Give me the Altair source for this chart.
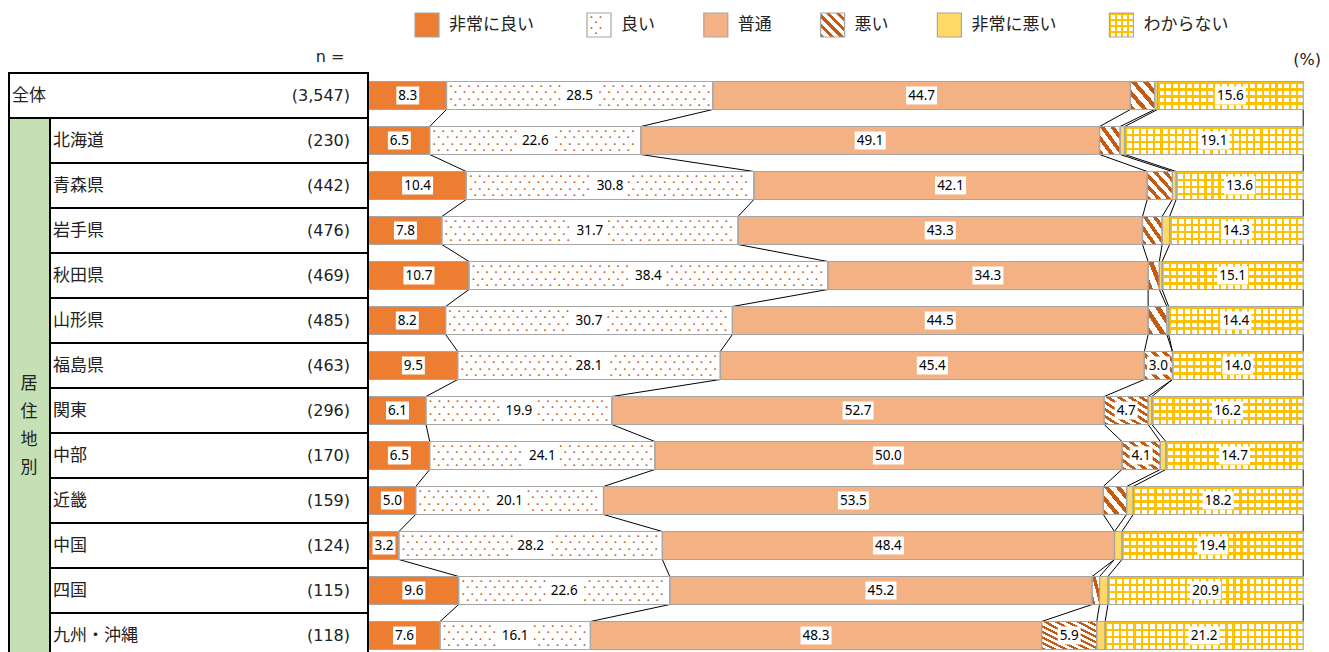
import altair as alt
import pandas as pd

# ---------------- data ----------------
rows = ["全体", "北海道", "青森県", "岩手県", "秋田県", "山形県", "福島県",
        "関東", "中部", "近畿", "中国", "四国", "九州・沖縄"]
n_values = ["(3,547)", "(230)", "(442)", "(476)", "(469)", "(485)", "(463)",
            "(296)", "(170)", "(159)", "(124)", "(115)", "(118)"]
categories = ["非常に良い", "良い", "普通", "悪い", "非常に悪い", "わからない"]
very_good = [8.3, 6.5, 10.4, 7.8, 10.7, 8.2, 9.5, 6.1, 6.5, 5.0, 3.2, 9.6, 7.6]
good = [28.5, 22.6, 30.8, 31.7, 38.4, 30.7, 28.1, 19.9, 24.1, 20.1, 28.2, 22.6, 16.1]
normal = [44.7, 49.1, 42.1, 43.3, 34.3, 44.5, 45.4, 52.7, 50.0, 53.5, 48.4, 45.2, 48.3]
bad = [2.6, 2.2, 2.7, 2.1, 1.2, 2.0, 3.0, 4.7, 4.1, 2.5, 0.0, 0.8, 5.9]
very_bad = [0.3, 0.5, 0.4, 0.8, 0.3, 0.2, 0.0, 0.4, 0.6, 0.7, 0.8, 0.9, 0.9]
unknown = [15.6, 19.1, 13.6, 14.3, 15.1, 14.4, 14.0, 16.2, 14.7, 18.2, 19.4, 20.9, 21.2]
group_label = "居\n住\n地\n別"
n_header = "n ="
unit_label = "(%)"

series = [very_good, good, normal, bad, very_bad, unknown]

# ---------------- layout / style ----------------
LEFT_W, RIGHT_W, CHART_H = 361, 952, 644
PX_PER_PCT = 9.342
ROW_PX, ROW0_PX, BAR_PX = 45, 87.5, 28
HALF = BAR_PX / 2 / ROW_PX
X_R = alt.Scale(domain=[0, RIGHT_W / PX_PER_PCT], nice=False, zero=False)
X_L = alt.Scale(domain=[0, LEFT_W], nice=False, zero=False)
Y_S = alt.Scale(domain=[-ROW0_PX / ROW_PX, (CHART_H - ROW0_PX) / ROW_PX],
                reverse=True, nice=False, zero=False)

JP = "Noto Sans CJK JP"
NUM_FONT = "DejaVu Sans"
LBL_FONT = "Noto Sans"
C_VG, C_GOOD, C_NORM, C_VB = "#ED7D31", "#FFFFFF", "#F4B183", "#FFD966"
C_GRID, C_BROWN, C_EDGE, C_GREEN = "#FFC000", "#C55A11", "#A6A6A6", "#C5E0B4"
CLEAR = "rgba(255,255,255,0)"
DOT_P = 9.03     # dot pitch (3 monospace cells at 5px)
DOT_W = 3.01     # one monospace cell at 5px
NB = "\u00a0"
DOT_ROWS = [(0.0, -9.75), (DOT_P / 2, -3.25), (0.0, 3.25), (DOT_P / 2, 9.75)]


def stripes(n, color, frac, x1, y1, x2, y2, gap):
    stops = []
    for k in range(n):
        a, b, c = k / n, (k + frac) / n, (k + 1) / n
        stops += [{"offset": round(a, 5), "color": color},
                  {"offset": round(b, 5), "color": color},
                  {"offset": round(b, 5), "color": gap},
                  {"offset": round(c, 5), "color": gap}]
    return {"gradient": "linear", "x1": x1, "y1": y1, "x2": x2, "y2": y2, "stops": stops}


def dot_runs(x0_pct, w_px, yc, label_half):
    out = []
    for off, ypx in DOT_ROWS:
        ypos = ROW0_PX + yc * ROW_PX + ypx
        if ypos > CHART_H - 3:
            continue
        ps = []
        p = 3 + off
        while p + DOT_W <= w_px - 2:
            if (label_half is None or p + DOT_W < w_px / 2 - label_half - 1
                    or p > w_px / 2 + label_half + 1):
                ps.append(p)
            p += DOT_P
        runs = []
        for q in ps:
            if runs and abs(q - runs[-1][-1] - DOT_P) < 1e-6:
                runs[-1].append(q)
            else:
                runs.append([q])
        for run in runs:
            out.append({"x": x0_pct + run[0] / PX_PER_PCT, "y": yc + ypx / ROW_PX,
                        "t": (NB * 2).join(["•"] * len(run))})
    return out


# bar segments
recs, cums, dots = [], [], []
for i in range(len(rows)):
    cum = 0.0
    edges = [0.0]
    for ci, vals in enumerate(series):
        v = vals[i]
        x0, x1 = cum, cum + v
        cum = x1
        edges.append(cum)
        w = v * PX_PER_PCT
        lab = f"{v:.1f}" if v >= 3 else ""
        recs.append({"row": i, "ci": ci, "v": v, "x0": x0, "x1": x1,
                     "mid": (x0 + x1) / 2, "yc": i, "ya": i - HALF, "yb": i + HALF,
                     "label": lab, "nchar": str(len(lab)),
                     "sN": max(2, round(2 * w / 11)), "gN": max(2, round(w / 7))})
        if ci == 1 and v > 0:
            dots += dot_runs(x0, w, i, (15.5 if len(lab) == 4 else 11.5) if lab else None)
    cums.append(edges)
seg = pd.DataFrame(recs)

# connectors between consecutive bars
con = []
for i in range(len(rows) - 1):
    for k in range(1, len(categories) + 1):
        con.append({"xa": cums[i][k], "xb": cums[i + 1][k],
                    "ya": i + HALF, "yb": i + 1 - HALF})
con = pd.DataFrame(con)

# legend (custom, so that patterns can be shown)
LEG_ROW = (25 - 8 - ROW0_PX) / ROW_PX
LEG_SW = 24
leg = []
px = 415
for ci, c in enumerate(categories):
    x0 = (px - 369) / PX_PER_PCT
    x1 = x0 + LEG_SW / PX_PER_PCT
    leg.append({"ci": ci, "cat": c, "v": 1, "x0": x0, "x1": x1,
                "xt": (px + 34 - 369) / PX_PER_PCT,
                "yc": LEG_ROW, "ya": LEG_ROW - 12 / ROW_PX, "yb": LEG_ROW + 12 / ROW_PX,
                "sN": 5, "gN": 4})
    if ci == 1:
        for off, ypx in [(0.0, -8.0), (DOT_P / 2, -2.7), (0.0, 2.7), (DOT_P / 2, 8.0)]:
            dots.append({"x": x0 + (3 + off) / PX_PER_PCT, "y": LEG_ROW + ypx / ROW_PX,
                         "t": "•" + NB * 2 + "•" if off == 0 else "•"})
    px += 34 + len(c) * 18.4 + 46
leg = pd.DataFrame(leg)
dots = pd.DataFrame(dots)


def seg_layers(df):
    base = alt.Chart(df)
    enc = dict(x=alt.X("x0:Q", scale=X_R, axis=None), x2="x1",
               y=alt.Y("ya:Q", scale=Y_S, axis=None), y2="yb")
    out = []
    out.append(base.transform_filter("datum.v > 0 && (datum.ci == 0 || datum.ci == 1 || datum.ci == 2 || datum.ci == 4)")
               .mark_rect(clip=True, strokeWidth=0)
               .encode(**enc, fill=alt.Fill("ci:O", scale=alt.Scale(domain=[0, 1, 2, 4],
                                                                      range=[C_VG, C_GOOD, C_NORM, C_VB]),
                                            legend=None)))
    bd = df[(df.ci == 3) & (df.v > 0)]
    for n in sorted(set(bd.sN)):
        out.append(base.transform_filter(f"datum.ci == 3 && datum.v > 0 && datum.sN == {n}")
                   .mark_rect(clip=True, strokeWidth=0,
                              fill=stripes(int(n), C_BROWN, 0.45, 0, 1, 1, 0, "#FFFFFF"))
                   .encode(**enc))
    ud = df[(df.ci == 5) & (df.v > 0)]
    for n in sorted(set(ud.gN)):
        out.append(base.transform_filter(f"datum.ci == 5 && datum.v > 0 && datum.gN == {n}")
                   .mark_rect(clip=True, strokeWidth=0,
                              fill=stripes(int(n), C_GRID, 0.3, 0, 0, 1, 0, "#FFFFFF"))
                   .encode(**enc))
    out.append(base.transform_filter("datum.ci == 5 && datum.v > 0")
               .mark_rect(clip=True, strokeWidth=0,
                          fill=stripes(4, C_GRID, 0.3, 0, 0, 0, 1, CLEAR))
               .encode(**enc))
    return out


def outline(df):
    return (alt.Chart(df).transform_filter("datum.v > 0")
            .mark_rect(clip=True, fillOpacity=0, stroke=C_EDGE, strokeWidth=1.2)
            .encode(x=alt.X("x0:Q", scale=X_R, axis=None), x2="x1",
                    y=alt.Y("ya:Q", scale=Y_S, axis=None), y2="yb"))


# ---------------- right panel ----------------
P4 = "M-1,-0.58L1,-0.58L1,0.58L-1,0.58Z"
P3 = "M-0.74,-0.58L0.74,-0.58L0.74,0.58L-0.74,0.58Z"

connectors = alt.Chart(con).mark_rule(color="black", strokeWidth=1, clip=True).encode(
    x=alt.X("xa:Q", scale=X_R, axis=None), x2="xb",
    y=alt.Y("ya:Q", scale=Y_S, axis=None), y2="yb")

dot_layer = alt.Chart(dots).mark_text(
    align="left", baseline="middle", font="DejaVu Sans Mono", fontSize=5, fontWeight="bold",
    color=C_BROWN, clip=True).encode(
    x=alt.X("x:Q", scale=X_R, axis=None), y=alt.Y("y:Q", scale=Y_S, axis=None), text="t:N")

lab_base = alt.Chart(seg).transform_filter("datum.label != ''")
boxes = lab_base.mark_point(filled=True, color="white", opacity=1, size=961, strokeWidth=0,
                            clip=True).encode(
    x=alt.X("mid:Q", scale=X_R, axis=None), y=alt.Y("yc:Q", scale=Y_S, axis=None),
    shape=alt.Shape("nchar:N", scale=alt.Scale(domain=["3", "4"], range=[P3, P4]), legend=None))
labels = lab_base.mark_text(font=LBL_FONT, fontSize=13.5, color="black", baseline="middle",
                            align="center", clip=True).encode(
    x=alt.X("mid:Q", scale=X_R, axis=None), y=alt.Y("yc:Q", scale=Y_S, axis=None), text="label:N")

leg_text = alt.Chart(leg).mark_text(font=JP, fontSize=17, align="left", baseline="middle",
                                    color="#222").encode(
    x=alt.X("xt:Q", scale=X_R, axis=None), y=alt.Y("yc:Q", scale=Y_S, axis=None), text="cat:N")

unit_df = pd.DataFrame({"x": [RIGHT_W / PX_PER_PCT], "y": [(60 - 8 - ROW0_PX) / ROW_PX], "t": [unit_label]})
unit_text = alt.Chart(unit_df).mark_text(font=NUM_FONT, fontSize=16, align="right",
                                         baseline="middle", color="#222").encode(
    x=alt.X("x:Q", scale=X_R, axis=None), y=alt.Y("y:Q", scale=Y_S, axis=None), text="t:N")

right = alt.layer(connectors, *seg_layers(seg), *seg_layers(leg), dot_layer,
                  outline(seg), outline(leg), boxes, labels, leg_text,
                  unit_text).properties(width=RIGHT_W, height=CHART_H)

# ---------------- left panel (table) ----------------
tbl = pd.DataFrame({
    "row": list(range(len(rows))), "label": rows, "n": n_values,
    "x0": [1] + [42] * (len(rows) - 1), "x1": [360] * len(rows),
    "ya": [i - 0.5 for i in range(len(rows))], "yb": [i + 0.5 for i in range(len(rows))],
    "lx": [4] + [45] * (len(rows) - 1), "nx": [342] * len(rows),
})
row_rects = alt.Chart(tbl).mark_rect(fill="white", stroke="black", strokeWidth=2, clip=True).encode(
    x=alt.X("x0:Q", scale=X_L, axis=None), x2="x1",
    y=alt.Y("ya:Q", scale=Y_S, axis=None), y2="yb")
grp = pd.DataFrame({"x0": [1], "x1": [42], "ya": [0.5], "yb": [len(rows) - 0.5],
                    "tx": [21], "ty": [6.4], "t": [group_label]})
grp_rect = alt.Chart(grp).mark_rect(fill=C_GREEN, stroke="black", strokeWidth=2, clip=True).encode(
    x=alt.X("x0:Q", scale=X_L, axis=None), x2="x1",
    y=alt.Y("ya:Q", scale=Y_S, axis=None), y2="yb")
grp_text = alt.Chart(grp).mark_text(font=JP, fontSize=17, lineBreak="\n", lineHeight=28,
                                    align="center", baseline="middle", color="#222").encode(
    x=alt.X("tx:Q", scale=X_L, axis=None), y=alt.Y("ty:Q", scale=Y_S, axis=None), text="t:N")
row_text = alt.Chart(tbl).mark_text(font=JP, fontSize=17, align="left", baseline="middle",
                                    color="#222").encode(
    x=alt.X("lx:Q", scale=X_L, axis=None), y=alt.Y("row:Q", scale=Y_S, axis=None), text="label:N")
n_text = alt.Chart(tbl).mark_text(font=NUM_FONT, fontSize=16, align="right", baseline="middle",
                                  color="#222").encode(
    x=alt.X("nx:Q", scale=X_L, axis=None), y=alt.Y("row:Q", scale=Y_S, axis=None), text="n:N")
nh = pd.DataFrame({"x": [322], "y": [(57 - 8 - ROW0_PX) / ROW_PX], "t": [n_header]})
n_head = alt.Chart(nh).mark_text(font=NUM_FONT, fontSize=16, align="center", baseline="middle",
                                 color="#222").encode(
    x=alt.X("x:Q", scale=X_L, axis=None), y=alt.Y("y:Q", scale=Y_S, axis=None), text="t:N")

left = alt.layer(row_rects, grp_rect, grp_text, row_text, n_text, n_head).properties(
    width=LEFT_W, height=CHART_H)

chart = alt.hconcat(left, right, spacing=0).properties(padding=0, background="white").configure_view(
    strokeWidth=0)

chart.save("out.html", embed_options={"renderer": "svg", "actions": False})
